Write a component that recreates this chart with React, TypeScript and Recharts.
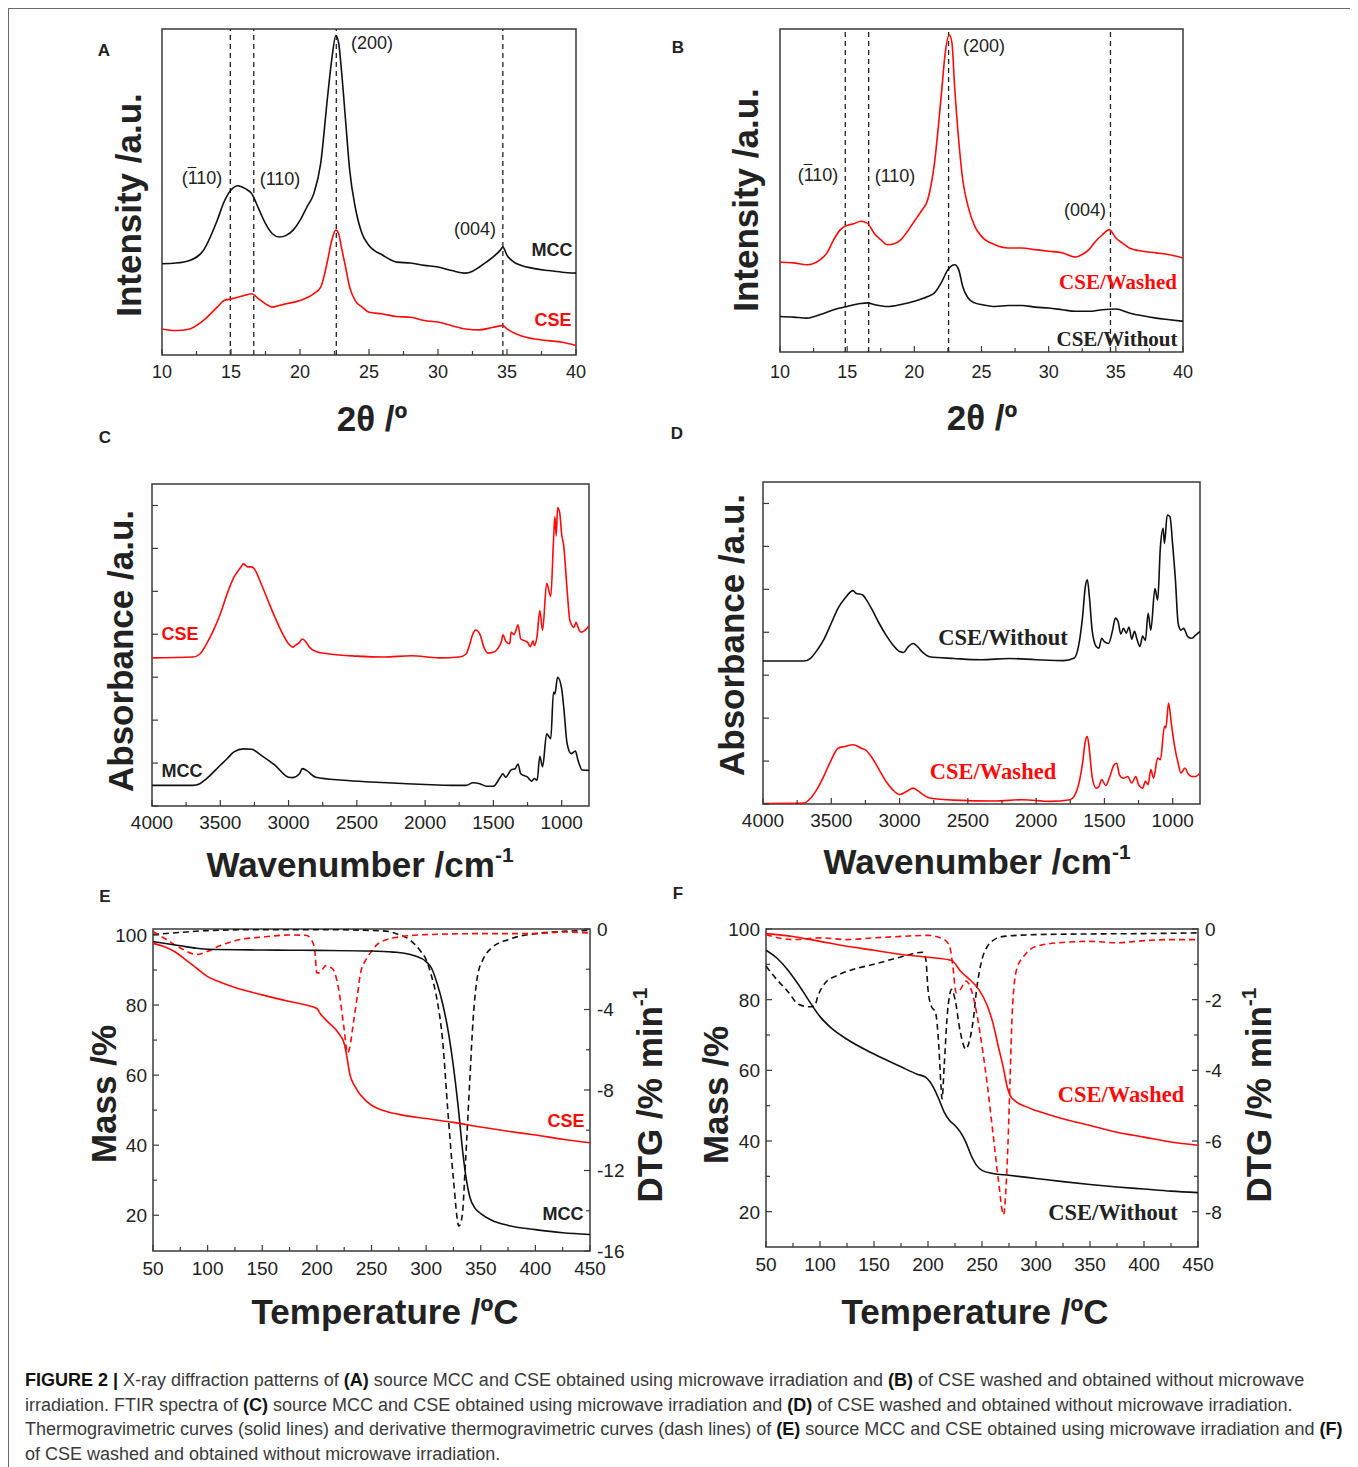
import React from "react";
import { LineChart, Line, XAxis, YAxis, ReferenceLine, ReferenceArea } from "recharts";

const SANS = "'Liberation Sans', Arial, Helvetica, sans-serif";
const SERIF = "'Liberation Serif', 'Times New Roman', serif";
const RED = "#ff0a0a";
const BLACK = "#111111";
const AXIS = "#3a3a3a";

type Pair = [number, number];

// ---------- Panel A / B : XRD ----------
const xrdTicks = [10, 15, 20, 25, 30, 35, 40];
const xrdMinorTicks = [12.5, 17.5, 22.5, 27.5, 32.5, 37.5];
const xrdPeakLinesA = [14.95, 16.65, 22.63, 34.7];
const xrdPeakLinesB = [14.86, 16.6, 22.55, 34.6];

const xrdA_MCC: Pair[] = [
  [10, 28.0], [11, 28.2], [12, 29.0], [13, 32.1], [14, 41.3], [14.5, 47.0], [15, 50.6], [15.5, 51.9], [16, 51.1],
  [16.5, 49.5], [17, 44.9], [17.5, 40.3], [18, 37.2], [18.5, 36.2], [19, 36.7], [19.5, 38.3], [20, 41.3],
  [20.5, 45.4], [21, 49.5], [21.5, 58.8], [22, 79.3], [22.3, 90.6], [22.6, 98.0], [22.8, 95.7], [23, 87.5],
  [23.3, 72.1], [23.6, 56.7], [24, 45.4], [24.5, 37.2], [25, 33.6], [26, 30.6], [27, 28.5], [28, 28.2],
  [29, 27.5], [30, 27.0], [31, 25.9], [32, 25.1], [32.5, 25.7], [33, 27.0], [33.5, 28.5], [34, 30.1],
  [34.5, 32.1], [34.7, 33.1], [35, 30.6], [35.5, 28.5], [36, 27.5], [37, 26.5], [38, 25.9], [39, 25.4], [40, 25.1],
];
const xrdA_CSE: Pair[] = [
  [10, 8.0], [11, 7.5], [12, 8.0], [13, 10.6], [14, 14.7], [14.5, 16.7], [15, 17.2], [15.5, 17.7], [16, 18.3],
  [16.5, 18.8], [17, 17.2], [17.5, 15.7], [18, 14.7], [18.5, 15.2], [19, 15.7], [20, 16.7], [21, 18.8],
  [21.5, 20.8], [22, 29.0], [22.3, 35.2], [22.6, 38.3], [22.8, 37.2], [23, 33.1], [23.3, 27.0], [23.6, 20.8],
  [24, 16.7], [24.5, 14.7], [25, 13.1], [26, 12.6], [27, 11.8], [28, 11.6], [29, 10.6], [30, 10.1], [31, 9.0],
  [32, 8.0], [33, 7.7], [34, 8.5], [34.7, 9.0], [35, 8.0], [36, 5.9], [37, 4.9], [38, 4.4], [39, 3.9], [40, 2.9],
];
const xrdB_Washed: Pair[] = [
  [10, 27.8], [11, 27.6], [12, 27.0], [13, 28.6], [13.5, 30.7], [14, 34.8], [14.5, 37.9], [15, 39.2], [15.5, 39.7],
  [16, 40.5], [16.5, 39.9], [17, 36.8], [17.5, 34.8], [18, 33.2], [18.5, 33.5], [19, 34.8], [19.5, 37.4],
  [20, 40.5], [20.5, 43.5], [21, 47.2], [21.5, 58.5], [22, 79.2], [22.3, 92.6], [22.6, 98.2], [22.8, 95.7],
  [23, 82.2], [23.3, 65.7], [23.6, 53.4], [24, 45.1], [24.5, 38.9], [25, 35.8], [26, 33.2], [27, 32.2],
  [28, 32.2], [29, 31.7], [30, 31.2], [31, 30.7], [32, 29.4], [32.5, 30.2], [33, 31.7], [33.5, 34.3],
  [34, 36.3], [34.5, 37.9], [35, 35.3], [35.5, 33.7], [36, 32.2], [37, 31.2], [38, 30.7], [39, 30.1], [40, 29.1],
];
const xrdB_Without: Pair[] = [
  [10, 11.0], [11, 10.8], [12, 10.5], [13, 11.6], [14, 13.1], [15, 14.1], [16, 15.0], [16.5, 15.2], [17, 14.7],
  [18, 14.1], [19, 14.7], [20, 15.7], [21, 17.2], [21.5, 18.3], [22, 21.4], [22.5, 25.5], [23, 27.0],
  [23.3, 25.5], [23.6, 20.3], [24, 16.7], [24.5, 15.2], [25, 14.7], [26, 14.1], [27, 14.4], [28, 14.4],
  [29, 13.9], [30, 13.6], [31, 13.1], [32, 12.6], [33, 12.6], [34, 13.1], [35, 13.3], [36, 12.1], [37, 11.2],
  [38, 10.5], [39, 10.0], [40, 9.5],
];

// ---------- Panel C / D : FTIR ----------
const ftirTicks = [1000, 1500, 2000, 2500, 3000, 3500, 4000];
const ftirMinorTicks = [1250, 1750, 2250, 2750, 3250, 3750];
const ftirYTicks = [0, 1, 2, 3, 4, 5, 6, 7];

const ftirC_CSE: Pair[] = [
  [4000, 3.45], [3700, 3.47], [3650, 3.54], [3600, 3.78], [3550, 4.09], [3500, 4.47], [3450, 4.94], [3400, 5.33],
  [3350, 5.56], [3330, 5.64], [3300, 5.57], [3270, 5.57], [3250, 5.52], [3200, 5.17], [3150, 4.78], [3100, 4.40],
  [3050, 4.05], [3000, 3.78], [2970, 3.70], [2950, 3.74], [2920, 3.81], [2900, 3.89], [2870, 3.81], [2850, 3.71],
  [2800, 3.60], [2700, 3.54], [2500, 3.49], [2300, 3.47], [2100, 3.50], [1900, 3.45], [1750, 3.47], [1700, 3.54],
  [1680, 3.70], [1650, 4.01], [1630, 4.10], [1600, 4.01], [1570, 3.70], [1540, 3.56], [1500, 3.58], [1470, 3.66],
  [1440, 3.85], [1430, 3.99], [1410, 3.84], [1380, 3.78], [1370, 4.05], [1350, 3.99], [1335, 4.09], [1320, 4.22],
  [1300, 3.89], [1280, 3.86], [1250, 3.81], [1230, 3.71], [1210, 3.85], [1200, 3.74], [1180, 3.97], [1160, 4.55],
  [1140, 4.09], [1110, 5.19], [1080, 4.88], [1060, 6.18], [1050, 6.74], [1040, 6.29], [1030, 6.95], [1015, 6.84],
  [1000, 6.33], [985, 6.06], [960, 5.02], [940, 4.32], [910, 4.16], [895, 4.28], [880, 4.16], [860, 4.05],
  [830, 4.09], [800, 4.20],
];
const ftirC_MCC: Pair[] = [
  [4000, 0.48], [3700, 0.48], [3650, 0.52], [3600, 0.64], [3500, 0.95], [3450, 1.10], [3400, 1.26], [3330, 1.33],
  [3270, 1.32], [3200, 1.18], [3100, 0.95], [3000, 0.67], [2970, 0.66], [2920, 0.75], [2900, 0.87], [2870, 0.83],
  [2800, 0.67], [2600, 0.60], [2400, 0.56], [2200, 0.53], [2000, 0.50], [1800, 0.48], [1700, 0.48], [1650, 0.54],
  [1600, 0.52], [1550, 0.46], [1500, 0.46], [1450, 0.67], [1430, 0.75], [1410, 0.67], [1370, 0.84], [1340, 0.87],
  [1320, 0.98], [1300, 0.75], [1250, 0.67], [1220, 0.58], [1200, 0.64], [1180, 0.60], [1160, 1.16], [1140, 0.91],
  [1110, 1.68], [1080, 1.57], [1060, 2.65], [1050, 2.61], [1030, 3.00], [1000, 2.73], [985, 2.30], [960, 1.45],
  [930, 1.22], [900, 1.28], [880, 1.06], [850, 0.84], [800, 0.83],
];
const ftirD_Without: Pair[] = [
  [4000, 3.33], [3700, 3.33], [3650, 3.40], [3600, 3.60], [3550, 3.86], [3500, 4.21], [3450, 4.56], [3400, 4.79],
  [3340, 4.97], [3320, 4.91], [3270, 4.87], [3250, 4.79], [3200, 4.52], [3150, 4.21], [3100, 3.94], [3050, 3.71],
  [3000, 3.55], [2970, 3.53], [2940, 3.65], [2900, 3.74], [2870, 3.67], [2830, 3.53], [2780, 3.43], [2600, 3.39],
  [2400, 3.36], [2200, 3.39], [2000, 3.36], [1800, 3.34], [1720, 3.40], [1690, 3.67], [1660, 4.36], [1640, 5.06],
  [1625, 5.22], [1610, 4.83], [1590, 4.05], [1560, 3.67], [1540, 3.63], [1520, 3.86], [1500, 3.78], [1470, 3.74],
  [1440, 4.05], [1420, 4.33], [1400, 4.25], [1380, 3.96], [1360, 4.09], [1340, 3.98], [1320, 4.12], [1300, 3.84],
  [1280, 4.02], [1260, 3.82], [1240, 3.67], [1220, 3.91], [1200, 3.81], [1180, 4.44], [1160, 4.05], [1130, 5.02],
  [1110, 4.75], [1090, 5.99], [1070, 6.42], [1060, 6.07], [1040, 6.73], [1020, 6.69], [1000, 6.03], [980, 5.22],
  [960, 4.21], [940, 4.05], [920, 4.09], [890, 3.90], [860, 3.86], [830, 3.94], [800, 4.02],
];
const ftirD_Washed: Pair[] = [
  [4000, 0.01], [3700, 0.02], [3650, 0.14], [3600, 0.37], [3550, 0.68], [3500, 1.03], [3450, 1.30], [3400, 1.34],
  [3340, 1.38], [3280, 1.30], [3250, 1.26], [3200, 1.07], [3150, 0.80], [3100, 0.53], [3050, 0.33], [3000, 0.22],
  [2950, 0.29], [2900, 0.37], [2870, 0.32], [2830, 0.22], [2780, 0.14], [2600, 0.09], [2300, 0.07], [2100, 0.10],
  [1900, 0.06], [1750, 0.10], [1700, 0.33], [1660, 0.95], [1640, 1.46], [1625, 1.57], [1610, 1.26], [1590, 0.64],
  [1560, 0.37], [1540, 0.41], [1520, 0.57], [1490, 0.43], [1460, 0.64], [1430, 0.91], [1410, 0.95], [1390, 0.68],
  [1360, 0.60], [1330, 0.64], [1300, 0.49], [1270, 0.64], [1250, 0.45], [1220, 0.37], [1200, 0.53], [1180, 0.45],
  [1160, 0.80], [1140, 0.60], [1110, 1.07], [1090, 1.03], [1060, 1.81], [1050, 1.77], [1030, 2.35], [1010, 1.88],
  [990, 1.42], [960, 0.95], [940, 0.72], [910, 0.84], [890, 0.72], [860, 0.64], [830, 0.64], [800, 0.72],
];

// ---------- Panel E / F : TGA & DTG ----------
const tempTicks = [50, 100, 150, 200, 250, 300, 350, 400, 450];
const tempMinorTicks = [75, 125, 175, 225, 275, 325, 375, 425];
const massTicks = [20, 40, 60, 80, 100];
const massMinorTicks = [30, 50, 70, 90];
const dtgTicksE = [-16, -12, -8, -4, 0];
const dtgMinorTicksE = [-14, -10, -6, -2];
const dtgTicksF = [-8, -6, -4, -2, 0];
const dtgMinorTicksF = [-7, -5, -3, -1];

const tgaE_MCC: Pair[] = [
  [50, 98.1], [75, 96.9], [90, 96.2], [100, 95.9], [150, 95.7], [200, 95.6], [250, 95.4], [270, 95.1], [280, 94.8],
  [290, 94.0], [300, 92.4], [305, 90.5], [310, 86.2], [315, 80.5], [320, 72.9], [325, 62.4], [330, 49.0],
  [333, 39.5], [336, 31.9], [340, 25.2], [345, 21.9], [350, 20.5], [360, 18.6], [375, 17.1], [400, 15.9],
  [425, 15.0], [450, 14.5],
];
const tgaE_CSE: Pair[] = [
  [50, 97.6], [60, 96.7], [70, 95.2], [80, 92.9], [90, 90.5], [100, 88.1], [110, 86.7], [125, 85.0], [150, 82.9],
  [175, 81.0], [190, 80.0], [200, 79.0], [203, 77.6], [210, 75.2], [220, 71.9], [225, 69.0], [228, 64.3],
  [230, 60.5], [235, 56.7], [240, 54.3], [250, 51.4], [260, 50.0], [275, 48.8], [300, 47.6], [325, 46.5],
  [350, 45.2], [375, 44.0], [400, 42.9], [425, 41.7], [450, 40.7],
];
const dtgE_MCC: Pair[] = [
  [50, -0.28], [75, -0.17], [100, -0.08], [150, -0.03], [200, -0.03], [250, -0.07], [265, -0.12], [275, -0.28],
  [285, -0.53], [295, -1.11], [300, -1.52], [305, -2.35], [310, -3.51], [315, -5.49], [320, -9.13], [325, -12.44],
  [330, -14.76], [333, -14.26], [336, -11.61], [340, -7.48], [343, -4.5], [347, -2.35], [352, -1.52], [360, -0.94],
  [375, -0.53], [400, -0.23], [425, -0.12], [450, -0.07],
];
const dtgE_CSE: Pair[] = [
  [50, -0.12], [60, -0.45], [75, -0.94], [90, -1.27], [100, -1.11], [110, -0.86], [125, -0.58], [150, -0.4],
  [175, -0.3], [190, -0.31], [195, -0.53], [198, -1.03], [200, -2.18], [202, -2.18], [205, -2.02], [208, -1.82],
  [212, -1.89], [215, -2.02], [220, -3.01], [225, -5.0], [228, -6.16], [230, -5.91], [233, -4.83], [237, -3.34],
  [240, -2.18], [245, -1.52], [250, -1.11], [255, -0.78], [260, -0.61], [275, -0.4], [300, -0.28], [350, -0.23],
  [400, -0.23], [425, -0.15], [450, -0.2],
];
const tgaF_Without: Pair[] = [
  [50, 94.0], [60, 91.8], [70, 88.5], [80, 84.3], [90, 79.6], [100, 75.2], [110, 72.1], [125, 68.8], [150, 64.6],
  [175, 61.0], [190, 58.9], [198, 58.0], [205, 55.2], [210, 51.9], [215, 48.2], [220, 45.8], [225, 44.4],
  [230, 42.5], [235, 39.7], [240, 35.9], [245, 33.1], [250, 31.7], [260, 30.8], [275, 30.3], [300, 29.4],
  [325, 28.5], [350, 27.7], [375, 27.0], [400, 26.4], [425, 25.8], [450, 25.4],
];
const tgaF_Washed: Pair[] = [
  [50, 98.7], [75, 97.9], [100, 96.5], [125, 95.1], [150, 94.0], [175, 92.8], [200, 92.0], [222, 91.1],
  [230, 88.1], [240, 85.3], [247, 82.9], [255, 78.2], [260, 73.5], [265, 66.9], [270, 60.4], [273, 55.7],
  [276, 52.9], [280, 51.5], [290, 49.8], [300, 48.6], [325, 46.3], [350, 44.4], [375, 42.5], [400, 41.1],
  [425, 39.7], [450, 38.8],
];
const dtgF_Without: Pair[] = [
  [50, -1.05], [60, -1.43], [70, -1.76], [80, -2.13], [90, -2.2], [95, -2.18], [98, -1.9], [105, -1.52],
  [115, -1.33], [130, -1.15], [150, -1.0], [175, -0.79], [195, -0.66], [198, -0.86], [200, -1.71], [203, -2.18],
  [207, -2.37], [210, -3.31], [212, -4.43], [213, -4.81], [215, -3.87], [218, -2.37], [222, -1.71], [225, -1.99],
  [230, -2.93], [235, -3.4], [238, -3.21], [242, -2.55], [245, -1.71], [250, -0.86], [255, -0.49], [260, -0.33],
  [270, -0.21], [300, -0.16], [350, -0.14], [400, -0.13], [450, -0.11],
];
const dtgF_Washed: Pair[] = [
  [50, -0.16], [75, -0.3], [100, -0.25], [125, -0.3], [150, -0.25], [175, -0.21], [200, -0.18], [215, -0.3],
  [220, -0.49], [223, -1.05], [226, -1.8], [230, -1.71], [235, -1.47], [240, -1.71], [245, -2.37], [250, -3.31],
  [255, -4.43], [260, -5.74], [265, -7.06], [270, -8.09], [272, -7.44], [274, -6.12], [276, -4.24], [278, -2.37],
  [282, -1.15], [290, -0.72], [300, -0.49], [325, -0.38], [350, -0.35], [375, -0.39], [400, -0.33], [425, -0.3],
  [450, -0.3],
];

// ---------- generic panel ----------
const ML = 60, MR = 60, MT = 12, MB = 44, YW = 50, XH = 34;

type Series = { data: Pair[]; color: string; dashed?: boolean; axis?: "left" | "right" };
type PanelCfg = {
  rect: { left: number; top: number; w: number; h: number };
  xDomain: [number, number];
  xReversed?: boolean;
  xMajor: number[];
  xMinor: number[];
  xLabelDy: number;
  yDomain: [number, number];
  yMajor?: number[];
  yMinor?: number[];
  yLabels?: boolean;
  rDomain?: [number, number];
  rMajor?: number[];
  rMinor?: number[];
  refX?: number[];
  series: Series[];
  fs: number;
};

const toPts = (d: Pair[]) => d.map(([x, y]) => ({ x, y }));

function XTick(props: any) {
  const { x, y, payload, majors, fs, dy } = props;
  const v = payload.value;
  const major = majors.includes(v);
  return (
    <g>
      <line x1={x} x2={x} y1={y} y2={y - (major ? 6 : 4)} stroke={AXIS} strokeWidth={1.2} />
      {major ? (
        <text x={x} y={y + fs + dy} textAnchor="middle" fontSize={fs} fontFamily={SANS} fill="#222">
          {v}
        </text>
      ) : null}
    </g>
  );
}
function YTickL(props: any) {
  const { x, y, payload, majors, fs, labels } = props;
  const v = payload.value;
  const major = majors.includes(v);
  return (
    <g>
      <line x1={x} x2={x + (major ? 6 : 4)} y1={y} y2={y} stroke={AXIS} strokeWidth={1.2} />
      {major && labels ? (
        <text x={x - 6} y={y + fs * 0.36} textAnchor="end" fontSize={fs} fontFamily={SANS} fill="#222">
          {v}
        </text>
      ) : null}
    </g>
  );
}
function YTickR(props: any) {
  const { x, y, payload, majors, fs } = props;
  const v = payload.value;
  const major = majors.includes(v);
  return (
    <g>
      <line x1={x} x2={x - (major ? 6 : 4)} y1={y} y2={y} stroke={AXIS} strokeWidth={1.2} />
      {major ? (
        <text x={x + 7} y={y + fs * 0.36} textAnchor="start" fontSize={fs} fontFamily={SANS} fill="#222">
          {v}
        </text>
      ) : null}
    </g>
  );
}

function Panel({ cfg }: { cfg: PanelCfg }) {
  const { rect } = cfg;
  const hasRight = !!cfg.rDomain;
  const width = ML + rect.w + MR;
  const height = MT + rect.h + MB;
  const xTicks = [...cfg.xMajor, ...cfg.xMinor].sort((a, b) => a - b);
  const yTicks = cfg.yMajor ? [...cfg.yMajor, ...(cfg.yMinor || [])].sort((a, b) => a - b) : undefined;
  const rTicks = cfg.rMajor ? [...cfg.rMajor, ...(cfg.rMinor || [])].sort((a, b) => a - b) : undefined;
  return (
    <div style={{ position: "absolute", left: rect.left - ML - 8, top: rect.top - MT - 8 }}>
      <LineChart
        width={width}
        height={height}
        margin={{ top: MT, bottom: MB - XH, left: ML - YW, right: hasRight ? MR - YW : MR }}
      >
        <XAxis
          xAxisId="x"
          type="number"
          dataKey="x"
          domain={cfg.xDomain}
          allowDataOverflow
          reversed={cfg.xReversed}
          ticks={xTicks}
          interval={0}
          tickSize={0}
          tickMargin={0}
          axisLine={false}
          tickLine={false}
          height={XH}
          tick={(p: any) => <XTick {...p} majors={cfg.xMajor} fs={cfg.fs} dy={cfg.xLabelDy} />}
        />
        <YAxis
          yAxisId="left"
          type="number"
          domain={cfg.yDomain}
          allowDataOverflow
          ticks={yTicks}
          interval={0}
          tickSize={0}
          tickMargin={0}
          axisLine={false}
          tickLine={false}
          width={YW}
          tick={
            yTicks
              ? (p: any) => <YTickL {...p} majors={cfg.yMajor} fs={cfg.fs} labels={!!cfg.yLabels} />
              : false
          }
        />
        {hasRight ? (
          <YAxis
            yAxisId="right"
            orientation="right"
            type="number"
            domain={cfg.rDomain}
            allowDataOverflow
            ticks={rTicks}
            interval={0}
            tickSize={0}
            tickMargin={0}
            axisLine={false}
            tickLine={false}
            width={YW}
            tick={(p: any) => <YTickR {...p} majors={cfg.rMajor} fs={cfg.fs} />}
          />
        ) : null}
        <ReferenceArea
          xAxisId="x"
          yAxisId="left"
          x1={cfg.xDomain[0]}
          x2={cfg.xDomain[1]}
          y1={cfg.yDomain[0]}
          y2={cfg.yDomain[1]}
          fill="none"
          fillOpacity={0}
          stroke={AXIS}
          strokeWidth={1.5}
        />
        {(cfg.refX || []).map((v) => (
          <ReferenceLine
            key={v}
            xAxisId="x"
            yAxisId="left"
            x={v}
            stroke="#222"
            strokeDasharray="5 4"
            strokeWidth={1.3}
          />
        ))}
        {cfg.series.map((s, i) => (
          <Line
            key={i}
            data={toPts(s.data)}
            dataKey="y"
            xAxisId="x"
            yAxisId={s.axis || "left"}
            type="monotone"
            stroke={s.color}
            strokeWidth={1.6}
            strokeDasharray={s.dashed ? "6 4" : undefined}
            dot={false}
            activeDot={false}
            isAnimationActive={false}
          />
        ))}
      </LineChart>
    </div>
  );
}

// ---------- text helpers (page coordinates) ----------
type TProps = {
  x: number;
  y: number;
  size?: number;
  bold?: boolean;
  color?: string;
  serif?: boolean;
  rotate?: boolean;
  children: React.ReactNode;
};
function T({ x, y, size = 18, bold = false, color = "#222", serif = false, rotate = false, children }: TProps) {
  return (
    <div
      style={{
        position: "absolute",
        left: x - 8,
        top: y - 8,
        transform: rotate ? "translate(-50%, -50%) rotate(-90deg)" : "translate(-50%, -50%)",
        fontSize: size,
        fontWeight: bold ? 700 : 400,
        color,
        fontFamily: serif ? SERIF : SANS,
        whiteSpace: "nowrap",
        lineHeight: 1,
      }}
    >
      {children}
    </div>
  );
}
const Bar1 = () => (
  <>
    (<span style={{ textDecoration: "overline" }}>1</span>10)
  </>
);
const Sup = ({ children }: { children: React.ReactNode }) => (
  <span style={{ fontSize: "0.6em", verticalAlign: "0.75em" }}>{children}</span>
);

const panels: PanelCfg[] = [
  {
    rect: { left: 162, top: 29, w: 414, h: 326 },
    xDomain: [10, 40], xMajor: xrdTicks, xMinor: xrdMinorTicks, xLabelDy: 5,
    yDomain: [0, 100], refX: xrdPeakLinesA, fs: 18,
    series: [
      { data: xrdA_MCC, color: BLACK },
      { data: xrdA_CSE, color: RED },
    ],
  },
  {
    rect: { left: 780, top: 29, w: 403, h: 323 },
    xDomain: [10, 40], xMajor: xrdTicks, xMinor: xrdMinorTicks, xLabelDy: 8,
    yDomain: [0, 100], refX: xrdPeakLinesB, fs: 18,
    series: [
      { data: xrdB_Washed, color: RED },
      { data: xrdB_Without, color: BLACK },
    ],
  },
  {
    rect: { left: 152, top: 484, w: 437, h: 322 },
    xDomain: [800, 4000], xReversed: true, xMajor: ftirTicks, xMinor: ftirMinorTicks, xLabelDy: 4,
    yDomain: [0, 7.5], yMajor: ftirYTicks, fs: 19,
    series: [
      { data: ftirC_CSE, color: RED },
      { data: ftirC_MCC, color: BLACK },
    ],
  },
  {
    rect: { left: 763, top: 482, w: 437, h: 322 },
    xDomain: [800, 4000], xReversed: true, xMajor: ftirTicks, xMinor: ftirMinorTicks, xLabelDy: 4,
    yDomain: [0, 7.5], yMajor: ftirYTicks, fs: 19,
    series: [
      { data: ftirD_Without, color: BLACK },
      { data: ftirD_Washed, color: RED },
    ],
  },
  {
    rect: { left: 153, top: 929, w: 437, h: 322 },
    xDomain: [50, 450], xMajor: tempTicks, xMinor: tempMinorTicks, xLabelDy: 5,
    yDomain: [9.8, 101.7], yMajor: massTicks, yMinor: massMinorTicks, yLabels: true,
    rDomain: [-16, 0], rMajor: dtgTicksE, rMinor: dtgMinorTicksE, fs: 19,
    series: [
      { data: dtgE_MCC, color: BLACK, dashed: true, axis: "right" },
      { data: dtgE_CSE, color: RED, dashed: true, axis: "right" },
      { data: tgaE_MCC, color: BLACK },
      { data: tgaE_CSE, color: RED },
    ],
  },
  {
    rect: { left: 766, top: 929, w: 432, h: 318 },
    xDomain: [50, 450], xMajor: tempTicks, xMinor: tempMinorTicks, xLabelDy: 5,
    yDomain: [10, 100], yMajor: massTicks, yMinor: massMinorTicks, yLabels: true,
    rDomain: [-9, 0], rMajor: dtgTicksF, rMinor: dtgMinorTicksF, fs: 19,
    series: [
      { data: dtgF_Without, color: BLACK, dashed: true, axis: "right" },
      { data: dtgF_Washed, color: RED, dashed: true, axis: "right" },
      { data: tgaF_Without, color: BLACK },
      { data: tgaF_Washed, color: RED },
    ],
  },
];

const TITLE = 35;
const B = ({ children }: { children: React.ReactNode }) => <b style={{ color: "#111" }}>{children}</b>;

export default function App() {
  return (
    <div style={{ position: "relative", width: 1350, height: 1459, background: "#fff" }}>
      <style>{`html, body { overflow: hidden; }`}</style>
      <div
        style={{
          position: "absolute",
          left: 0,
          top: 0,
          width: 1349,
          height: 1462,
          border: "1.5px solid #6a6a6a",
          boxSizing: "border-box",
        }}
      />
      {panels.map((p, i) => (
        <Panel key={i} cfg={p} />
      ))}

      {/* panel letters */}
      <T x={104} y={50} size={17} bold>A</T>
      <T x={678} y={47} size={17} bold>B</T>
      <T x={105} y={437} size={17} bold>C</T>
      <T x={677} y={433} size={17} bold>D</T>
      <T x={105} y={896} size={17} bold>E</T>
      <T x={678} y={893} size={17} bold>F</T>

      {/* A */}
      <T x={202} y={178}><Bar1 /></T>
      <T x={280} y={179}>(110)</T>
      <T x={372} y={43}>(200)</T>
      <T x={475} y={229}>(004)</T>
      <T x={552} y={250} bold>MCC</T>
      <T x={553} y={320} bold color={RED}>CSE</T>
      <T x={372} y={418} size={TITLE} bold>2θ /º</T>
      <T x={128} y={205} size={TITLE} bold rotate>Intensity /a.u.</T>

      {/* B */}
      <T x={818} y={175}><Bar1 /></T>
      <T x={895} y={176}>(110)</T>
      <T x={984} y={46}>(200)</T>
      <T x={1085} y={210}>(004)</T>
      <T x={1118} y={282} size={21} bold serif color={RED}>CSE/Washed</T>
      <T x={1117} y={339} size={21} bold serif>CSE/Without</T>
      <T x={982} y={417} size={TITLE} bold>2θ /º</T>
      <T x={745} y={200} size={TITLE} bold rotate>Intensity /a.u.</T>

      {/* C */}
      <T x={180} y={634} bold color={RED}>CSE</T>
      <T x={182} y={771} bold>MCC</T>
      <T x={360} y={863} size={TITLE} bold>Wavenumber /cm<Sup>-1</Sup></T>
      <T x={120} y={651} size={TITLE} bold rotate>Absorbance /a.u.</T>

      {/* D */}
      <T x={1003} y={638} size={22.5} bold serif>CSE/Without</T>
      <T x={993} y={772} size={22.5} bold serif color={RED}>CSE/Washed</T>
      <T x={977} y={860} size={TITLE} bold>Wavenumber /cm<Sup>-1</Sup></T>
      <T x={731} y={635} size={TITLE} bold rotate>Absorbance /a.u.</T>

      {/* E */}
      <T x={566} y={1121} bold color={RED}>CSE</T>
      <T x={563} y={1214} bold>MCC</T>
      <T x={385} y={1311} size={TITLE} bold>Temperature /ºC</T>
      <T x={103} y={1094} size={TITLE} bold rotate>Mass /%</T>
      <T x={648} y={1095} size={TITLE} bold rotate>DTG /% min<Sup>-1</Sup></T>

      {/* F */}
      <T x={1121} y={1095} size={22.5} bold serif color={RED}>CSE/Washed</T>
      <T x={1113} y={1213} size={22.5} bold serif>CSE/Without</T>
      <T x={975} y={1311} size={TITLE} bold>Temperature /ºC</T>
      <T x={715} y={1095} size={TITLE} bold rotate>Mass /%</T>
      <T x={1257} y={1095} size={TITLE} bold rotate>DTG /% min<Sup>-1</Sup></T>

      {/* caption */}
      <div
        style={{
          position: "absolute",
          left: 17,
          top: 1360,
          fontFamily: SANS,
          fontSize: 18,
          lineHeight: "24.7px",
          color: "#3a3a3a",
          whiteSpace: "nowrap",
        }}
      >
        <div>
          <B>FIGURE 2 |</B> X-ray diffraction patterns of <B>(A)</B> source MCC and CSE obtained using microwave
          irradiation and <B>(B)</B> of CSE washed and obtained without microwave
        </div>
        <div>
          irradiation. FTIR spectra of <B>(C)</B> source MCC and CSE obtained using microwave irradiation and{" "}
          <B>(D)</B> of CSE washed and obtained without microwave irradiation.
        </div>
        <div>
          Thermogravimetric curves (solid lines) and derivative thermogravimetric curves (dash lines) of <B>(E)</B>{" "}
          source MCC and CSE obtained using microwave irradiation and <B>(F)</B>
        </div>
        <div>of CSE washed and obtained without microwave irradiation.</div>
      </div>
    </div>
  );
}
